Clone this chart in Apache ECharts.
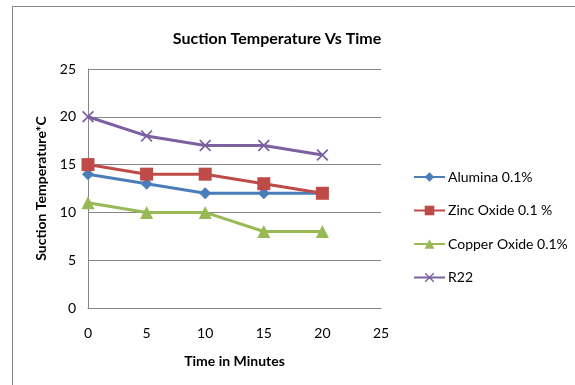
<!DOCTYPE html>
<html>
<head>
<meta charset="utf-8">
<script src="https://cdn.jsdelivr.net/npm/echarts@6/dist/echarts.min.js"></script>
<style>
  html, body { margin: 0; padding: 0; background: #fff; }
  #chart { width: 575px; height: 385px; }
</style>
</head>
<body>
<div id="chart"></div>
<script>
// data
var times = [0, 5, 10, 15, 20];
var alumina = [14, 13, 12, 12, 12];
var zincOxide = [15, 14, 14, 13, 12];
var copperOxide = [11, 10, 10, 8, 8];
var r22 = [20, 18, 17, 17, 16];
var seriesNames = ['Alumina 0.1%', 'Zinc Oxide 0.1 %', 'Copper Oxide 0.1%', 'R22'];

var font = 'Lato';
var crossPath = 'path://M0,1L1,0L5,4L9,0L10,1L6,5L10,9L9,10L5,6L1,10L0,9L4,5Z';

function pairs(vals) {
    return vals.map(function (v, i) { return [times[i], v]; });
}

function lineSeries(name, vals, color, symbol, size) {
    return {
        name: name,
        type: 'line',
        data: pairs(vals),
        symbol: symbol,
        symbolSize: size,
        showAllSymbol: true,
        lineStyle: { color: color, width: 3 },
        itemStyle: { color: color },
        emphasis: { disabled: true },
        animation: false
    };
}

var chart = echarts.init(document.getElementById('chart'));

var option = {
    backgroundColor: '#fff',
    textStyle: { fontFamily: font },
    title: {
        text: 'Suction Temperature Vs Time',
        left: 272,
        textAlign: 'center',
        top: 26,
        textStyle: { fontFamily: font, fontSize: 16, fontWeight: 'bold', color: '#000' }
    },
    grid: { left: 88, right: 194, top: 69, bottom: 77 },
    legend: {
        orient: 'vertical',
        left: 408,
        top: 165,
        itemWidth: 31,
        itemHeight: 12,
        itemGap: 19.5,
        data: seriesNames,
        textStyle: { fontFamily: font, fontSize: 14, color: '#000', padding: [0, 0, 0, -2] }
    },
    xAxis: {
        type: 'value',
        min: 0,
        max: 25,
        interval: 5,
        name: 'Time in Minutes',
        nameLocation: 'middle',
        nameGap: 46,
        nameTextStyle: { fontFamily: font, fontSize: 14, fontWeight: 'bold', color: '#000' },
        axisLine: { show: true, lineStyle: { color: '#868686', width: 1 } },
        axisTick: { show: false },
        axisLabel: { margin: 18, fontSize: 14, color: '#000', fontFamily: font },
        splitLine: { show: false }
    },
    yAxis: {
        type: 'value',
        min: 0,
        max: 25,
        interval: 5,
        name: 'Suction Temperature*C',
        nameLocation: 'middle',
        nameGap: 36,
        nameTextStyle: { fontFamily: font, fontSize: 14, fontWeight: 'bold', color: '#000' },
        axisLine: { show: true, lineStyle: { color: '#868686', width: 1 } },
        axisTick: { show: false },
        axisLabel: { margin: 12, fontSize: 14, color: '#000', fontFamily: font },
        splitLine: { show: true, lineStyle: { color: '#868686', width: 1 } }
    },
    graphic: [
        { type: 'line', shape: { x1: 12.5, y1: 6.5, x2: 575, y2: 6.5 }, style: { stroke: '#868686', lineWidth: 1 } },
        { type: 'line', shape: { x1: 12.5, y1: 6.5, x2: 12.5, y2: 385 }, style: { stroke: '#868686', lineWidth: 1 } }
    ],
    series: [
        lineSeries(seriesNames[0], alumina, '#4A7EBB', 'diamond', 12),
        lineSeries(seriesNames[1], zincOxide, '#BE4B48', 'rect', 13),
        lineSeries(seriesNames[2], copperOxide, '#98B954', 'triangle', 13),
        lineSeries(seriesNames[3], r22, '#7D60A0', crossPath, 12)
    ]
};

chart.setOption(option);
</script>
</body>
</html>
